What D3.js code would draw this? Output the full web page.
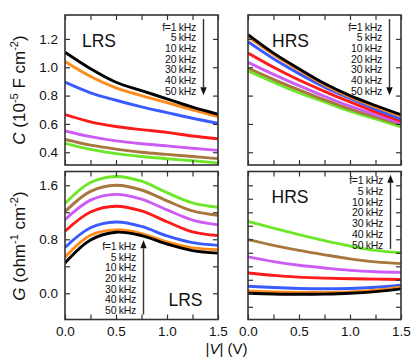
<!DOCTYPE html>
<html>
<head>
<meta charset="utf-8">
<script src="https://cdn.jsdelivr.net/npm/d3@7"></script>
<style>
  body { margin: 0; background: #fff; }
  text { font-family: "Liberation Sans", Arial, Helvetica, sans-serif; fill: #111; }
</style>
</head>
<body>
<div id="chart"></div>
<script>
const volts = [0, 0.25, 0.5, 0.75, 1.0, 1.25, 1.5];
const freqLabels = ["f=1 kHz", "5 kHz", "10 kHz", "20 kHz", "30 kHz", "40 kHz", "50 kHz"];
const colors = ["#000000", "#ff8a1c", "#3a5cff", "#ff1a1a", "#cc5cf5", "#a8773e", "#6ee62a"];

// C (10^-5 F cm^-2), LRS, one row per frequency
const cLRS = [
  [1.106, 0.99, 0.894, 0.835, 0.777, 0.718, 0.668],
  [1.04, 0.935, 0.855, 0.80, 0.75, 0.70, 0.652],
  [0.895, 0.82, 0.767, 0.72, 0.68, 0.64, 0.605],
  [0.666, 0.615, 0.582, 0.56, 0.54, 0.515, 0.495],
  [0.55, 0.51, 0.48, 0.46, 0.445, 0.428, 0.413],
  [0.49, 0.45, 0.422, 0.40, 0.385, 0.37, 0.355],
  [0.463, 0.42, 0.39, 0.37, 0.354, 0.34, 0.325]
];
// C, HRS
const cHRS = [
  [1.23, 1.10, 0.99, 0.885, 0.80, 0.73, 0.665],
  [1.215, 1.09, 0.98, 0.875, 0.79, 0.72, 0.655],
  [1.18, 1.06, 0.955, 0.86, 0.78, 0.705, 0.635],
  [1.10, 1.0, 0.91, 0.83, 0.755, 0.685, 0.62],
  [1.035, 0.95, 0.87, 0.795, 0.725, 0.665, 0.605],
  [0.995, 0.915, 0.84, 0.77, 0.705, 0.65, 0.595],
  [0.975, 0.895, 0.82, 0.755, 0.69, 0.635, 0.58]
];
// G (ohm^-1 cm^-2), LRS
const gLRS = [
  [0.45, 0.79, 0.905, 0.855, 0.73, 0.632, 0.595],
  [0.535, 0.86, 0.94, 0.885, 0.76, 0.672, 0.645],
  [0.68, 0.97, 1.055, 0.99, 0.85, 0.75, 0.71],
  [0.92, 1.205, 1.29, 1.22, 1.06, 0.91, 0.855],
  [1.09, 1.38, 1.465, 1.395, 1.235, 1.085, 1.015],
  [1.21, 1.51, 1.60, 1.53, 1.37, 1.22, 1.155],
  [1.33, 1.64, 1.73, 1.66, 1.49, 1.34, 1.275]
];
// G, HRS
const gHRS = [
  [0.0, -0.01, -0.015, -0.012, 0.0, 0.025, 0.065],
  [0.035, 0.02, 0.012, 0.012, 0.02, 0.045, 0.09],
  [0.105, 0.085, 0.072, 0.068, 0.072, 0.09, 0.12],
  [0.30, 0.265, 0.24, 0.225, 0.215, 0.21, 0.205],
  [0.54, 0.47, 0.415, 0.375, 0.34, 0.32, 0.31],
  [0.795, 0.71, 0.635, 0.57, 0.51, 0.465, 0.44],
  [1.065, 0.965, 0.87, 0.78, 0.70, 0.635, 0.60]
];

const xTicks = [0, 0.25, 0.5, 0.75, 1.0, 1.25, 1.5];
const xLabels = [0, 0.5, 1.0, 1.5];
const cTicks = [0.4, 0.6, 0.8, 1.0, 1.2];
const gTicksL = [0, 0.4, 0.8, 1.2, 1.6];
const gLabels = [0, 0.8, 1.6];
const gTicksR = [-0.2, 0, 0.2, 0.4, 0.6, 0.8, 1.0, 1.2, 1.4, 1.6];

const width = 415, height = 364;
const svg = d3.select("#chart").append("svg")
  .attr("width", width).attr("height", height);

const colX = [[65, 218], [248, 401]];
const rowY = [[15, 165], [171.5, 319.5]];

const yC = d3.scaleLinear().domain([0.31, 1.369]);
const yG = d3.scaleLinear().domain([-0.388, 1.804]);

const panels = [
  {col: 0, row: 0, data: cLRS, y: yC, ticks: cTicks, name: "LRS", nx: 82, ny: 47, leg: {x: 196, y: 27, dir: "down"}},
  {col: 1, row: 0, data: cHRS, y: yC, ticks: cTicks, name: "HRS", nx: 272, ny: 47, leg: {x: 382, y: 27, dir: "down"}},
  {col: 0, row: 1, data: gLRS, y: yG, ticks: gTicksL, name: "LRS", nx: 168.5, ny: 305.5, leg: {x: 136, y: 246.3, dir: "up"}},
  {col: 1, row: 1, data: gHRS, y: yG, ticks: gTicksR, name: "HRS", nx: 271.5, ny: 202.5, leg: {x: 383, y: 180.7, dir: "up"}}
];

panels.forEach((p, i) => {
  const [x0, x1] = colX[p.col];
  const [y0, y1] = rowY[p.row];
  const x = d3.scaleLinear().domain([0, 1.5]).range([x0, x1]);
  const y = p.y.copy().range([y1, y0]);
  const g = svg.append("g");

  g.append("clipPath").attr("id", "clip" + i)
    .append("rect").attr("x", x0).attr("y", y0).attr("width", x1 - x0).attr("height", y1 - y0);

  const line = d3.line()
    .x((d, j) => x(volts[j]))
    .y(d => y(d))
    .curve(d3.curveCatmullRom.alpha(0.5));

  // draw high frequency first so 1 kHz ends on top
  g.append("g").attr("clip-path", `url(#clip${i})`)
    .selectAll("path")
    .data(p.data.map((d, k) => ({d, k})).reverse())
    .join("path")
    .attr("d", s => line(s.d))
    .attr("fill", "none")
    .attr("stroke", s => colors[s.k])
    .attr("stroke-width", 2.9);

  // ticks, inward on all four sides
  const tickStyle = sel => {
    sel.select(".domain").remove();
    sel.selectAll(".tick line").attr("stroke", "#333").attr("stroke-width", 1.2);
  };
  const showX = p.row === 1;
  g.append("g").attr("transform", `translate(0,${y1})`)
    .call(d3.axisBottom(x).tickValues(xTicks).tickSize(-5).tickPadding(7)
      .tickFormat(d => (showX && xLabels.includes(d)) ? d3.format(".1f")(d) : ""))
    .call(tickStyle)
    .call(a => a.selectAll("text").attr("font-size", 13.5).attr("fill", "#111"));
  g.append("g").attr("transform", `translate(0,${y0})`)
    .call(d3.axisTop(x).tickValues(xTicks).tickSize(-5).tickFormat(""))
    .call(tickStyle);

  const labels = p.col === 0 ? (p.row === 0 ? cTicks : gLabels) : [];
  g.append("g").attr("transform", `translate(${x0},0)`)
    .call(d3.axisLeft(y).tickValues(p.ticks).tickSize(-5).tickPadding(7)
      .tickFormat(d => labels.includes(d) ? d3.format(".1f")(d) : ""))
    .call(tickStyle)
    .call(a => a.selectAll("text").attr("font-size", 13.5).attr("fill", "#111"));
  g.append("g").attr("transform", `translate(${x1},0)`)
    .call(d3.axisRight(y).tickValues(p.ticks).tickSize(-5).tickFormat(""))
    .call(tickStyle);

  g.append("rect")
    .attr("x", x0).attr("y", y0).attr("width", x1 - x0).attr("height", y1 - y0)
    .attr("fill", "none").attr("stroke", "#333").attr("stroke-width", 1.6);

  g.append("text").attr("x", p.nx).attr("y", p.ny)
    .attr("font-size", 17.5).text(p.name);

  // frequency legend + arrow
  const step = 10.7;
  g.append("g").selectAll("text")
    .data(freqLabels)
    .join("text")
    .attr("x", p.leg.x)
    .attr("y", (d, k) => p.leg.y + k * step)
    .attr("dy", "0.35em")
    .attr("text-anchor", "end")
    .attr("font-size", 10.5)
    .attr("letter-spacing", -0.3)
    .text(d => d);

  const ax = p.leg.x + 7.5;
  const top = p.leg.y - 5, bot = p.leg.y + 6 * step + 4;
  const tip = p.leg.dir === "down" ? bot : top - 1;
  const tail = p.leg.dir === "down" ? top - 3 : bot;
  const back = p.leg.dir === "down" ? tip - 8 : tip + 8;
  g.append("line").attr("x1", ax).attr("x2", ax).attr("y1", tail).attr("y2", back)
    .attr("stroke", "#333").attr("stroke-width", 1.4);
  g.append("path")
    .attr("d", `M${ax - 3.2},${back} L${ax + 3.2},${back} L${ax},${tip} Z`)
    .attr("fill", "#111");
});

// axis titles
const cTitle = svg.append("text")
  .attr("transform", "translate(25,90) rotate(-90)")
  .attr("text-anchor", "middle").attr("font-size", 17);
cTitle.append("tspan").attr("font-style", "italic").text("C");
cTitle.append("tspan").text(" (10");
cTitle.append("tspan").attr("font-size", 11).attr("dy", -7).text("-5");
cTitle.append("tspan").attr("dy", 7).text(" F cm");
cTitle.append("tspan").attr("font-size", 11).attr("dy", -7).text("-2");
cTitle.append("tspan").attr("dy", 7).text(")");

const gTitle = svg.append("text")
  .attr("transform", "translate(25,246) rotate(-90)")
  .attr("text-anchor", "middle").attr("font-size", 17);
gTitle.append("tspan").attr("font-style", "italic").text("G");
gTitle.append("tspan").text(" (ohm");
gTitle.append("tspan").attr("font-size", 11).attr("dy", -7).text("-1");
gTitle.append("tspan").attr("dy", 7).text(" cm");
gTitle.append("tspan").attr("font-size", 11).attr("dy", -7).text("-2");
gTitle.append("tspan").attr("dy", 7).text(")");

const xTitle = svg.append("text")
  .attr("x", 226.5).attr("y", 353.5)
  .attr("text-anchor", "middle").attr("font-size", 15);
xTitle.append("tspan").text("|");
xTitle.append("tspan").attr("font-style", "italic").text("V");
xTitle.append("tspan").text("| (V)");
</script>
</body>
</html>
